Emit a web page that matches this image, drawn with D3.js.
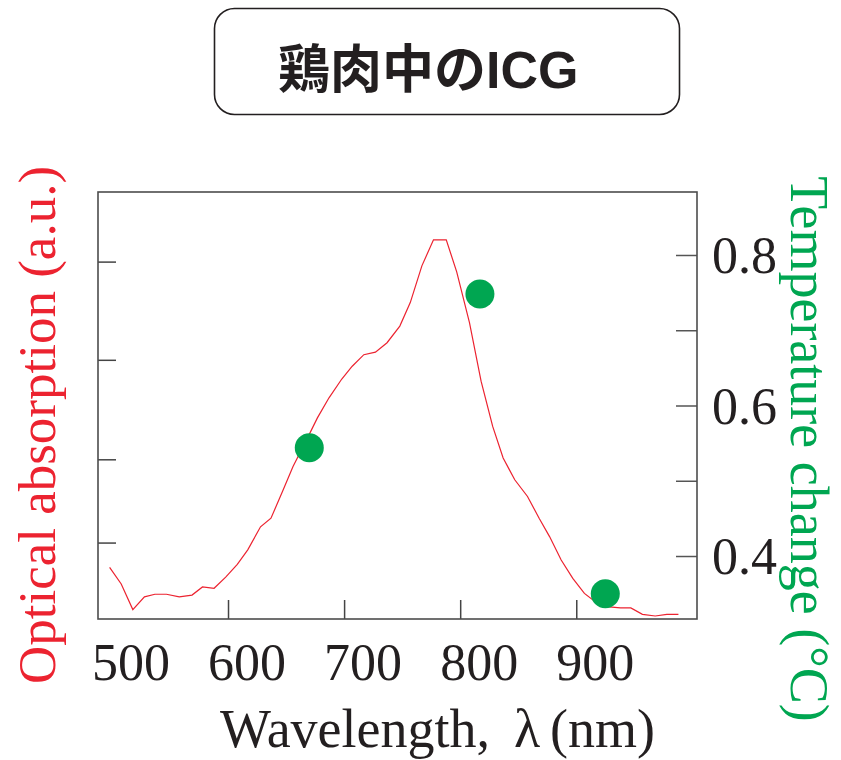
<!DOCTYPE html>
<html>
<head>
<meta charset="utf-8">
<script src="https://cdn.jsdelivr.net/npm/d3@7"></script>
<style>
  body { margin: 0; background: #fff; }
  svg { display: block; }
  .serif { font-family: "Liberation Serif", "Times New Roman", serif; }
</style>
</head>
<body>
<script>
// --- data ---
const wavelength = [498, 508, 518, 528, 537, 547, 558, 569, 578, 588,
  598, 608, 617, 628, 637, 647, 656, 667, 677, 687,
  698, 707, 717, 727, 737, 748, 757, 767, 777, 788,
  797, 808, 818, 828, 837, 847, 858, 868, 877, 887,
  897, 907, 918, 926, 938, 947, 957, 968, 978, 988];
const absorption = [0.121, 0.082, 0.022, 0.052, 0.058, 0.058, 0.052, 0.056, 0.075, 0.072,
  0.098, 0.128, 0.162, 0.216, 0.236, 0.299, 0.357, 0.416, 0.471, 0.518,
  0.562, 0.592, 0.619, 0.625, 0.647, 0.686, 0.741, 0.827, 0.888, 0.888,
  0.813, 0.694, 0.557, 0.451, 0.377, 0.326, 0.287, 0.236, 0.193, 0.138,
  0.095, 0.060, 0.037, 0.029, 0.026, 0.026, 0.011, 0.007, 0.011, 0.011];

const laserWavelength = [670, 817, 925];
const tempChange = [0.544, 0.748, 0.350];

const xTicks = [600, 700, 800, 900];
const xLabels = [500, 600, 700, 800, 900];
const absTicks = [0.179, 0.374, 0.607, 0.837];
const tempTicks = [0.4, 0.5, 0.6, 0.7, 0.8];
const tempLabels = [0.4, 0.6, 0.8];

const title = "鶏肉中のICG";

// --- layout ---
const W = 841, H = 760;
const plot = { left: 98, right: 697, top: 192, bottom: 619 };
const red = "#ec2330", green = "#00a651";

const svg = d3.select("body").append("svg")
  .attr("width", W).attr("height", H);

const x = d3.scaleLinear().domain([488, 1004]).range([plot.left, plot.right]);
const yA = d3.scaleLinear().domain([0, 1]).range([plot.bottom, plot.top]);
const yT = d3.scaleLinear().domain([0.3163, 0.8837]).range([plot.bottom, plot.top]);

// title box
svg.append("rect")
  .attr("x", 214.5).attr("y", 8.5)
  .attr("width", 465).attr("height", 106)
  .attr("rx", 20).attr("ry", 20)
  .attr("fill", "none").attr("stroke", "#231f20").attr("stroke-width", 1.6);
svg.append("text")
  .attr("x", 278).attr("y", 88)
  .attr("font-family", "'Liberation Sans', 'Noto Sans CJK JP', sans-serif")
  .attr("font-weight", "bold").attr("font-size", 52)
  .attr("fill", "#231f20")
  .text(title);

// ticks (inward)
const tickStyle = g => {
  g.select(".domain").remove();
  g.selectAll(".tick line").attr("stroke", "#444").attr("stroke-width", 1.5);
  g.selectAll(".tick text").remove();
};

svg.append("g")
  .attr("transform", `translate(0,${plot.bottom})`)
  .call(d3.axisBottom(x).tickValues(xTicks).tickSize(-19))
  .call(tickStyle);

svg.append("g")
  .attr("transform", `translate(${plot.left},0)`)
  .call(d3.axisLeft(yA).tickValues(absTicks).tickSize(-18))
  .call(tickStyle);

const rightAxis = svg.append("g")
  .attr("transform", `translate(${plot.right},0)`)
  .call(d3.axisRight(yT).tickValues(tempTicks).tickSize(-21)
    .tickFormat(d => tempLabels.includes(d) ? d3.format(".1f")(d) : ""));
rightAxis.select(".domain").remove();
rightAxis.selectAll(".tick line").attr("stroke", "#555").attr("stroke-width", 1.5);
rightAxis.selectAll(".tick text")
  .attr("class", "serif")
  .attr("x", 15).attr("dy", "0.34em")
  .attr("font-size", 52).attr("fill", "#231f20");

// frame
svg.append("rect")
  .attr("x", plot.left).attr("y", plot.top)
  .attr("width", plot.right - plot.left).attr("height", plot.bottom - plot.top)
  .attr("fill", "none").attr("stroke", "#4d4d4d").attr("stroke-width", 1.6);

// x labels sit a bit right of their ticks, as in the original
svg.append("g").selectAll("text")
  .data(xLabels)
  .join("text")
  .attr("class", "serif")
  .attr("x", d => x(d) + 19)
  .attr("y", 680)
  .attr("text-anchor", "middle")
  .attr("font-size", 52).attr("fill", "#231f20")
  .text(d => d);

// absorption curve
const line = d3.line()
  .x((d, i) => x(wavelength[i]))
  .y(d => yA(d));

svg.append("path")
  .datum(absorption)
  .attr("d", line)
  .attr("fill", "none")
  .attr("stroke", red)
  .attr("stroke-width", 1.2);

// temperature points
svg.append("g").selectAll("circle")
  .data(tempChange)
  .join("circle")
  .attr("cx", (d, i) => x(laserWavelength[i]))
  .attr("cy", d => yT(d))
  .attr("r", 14.5)
  .attr("fill", green);

// axis titles
const xt = svg.append("g").attr("class", "serif")
  .attr("font-size", 54).attr("fill", "#231f20");
xt.append("text").attr("x", 220).attr("y", 747).text("Wavelength,");
xt.append("text").attr("x", 514).attr("y", 747).text("λ");
xt.append("text").attr("x", 550).attr("y", 747).text("(nm)");

svg.append("text")
  .attr("class", "serif")
  .attr("transform", "translate(55,425) rotate(-90)")
  .attr("text-anchor", "middle")
  .attr("font-size", 53).attr("fill", red)
  .text("Optical absorption (a.u.)");

svg.append("text")
  .attr("class", "serif")
  .attr("transform", "translate(791,449) rotate(90)")
  .attr("text-anchor", "middle")
  .attr("font-size", 54).attr("fill", green)
  .text("Temperature change (°C)");
</script>
</body>
</html>
